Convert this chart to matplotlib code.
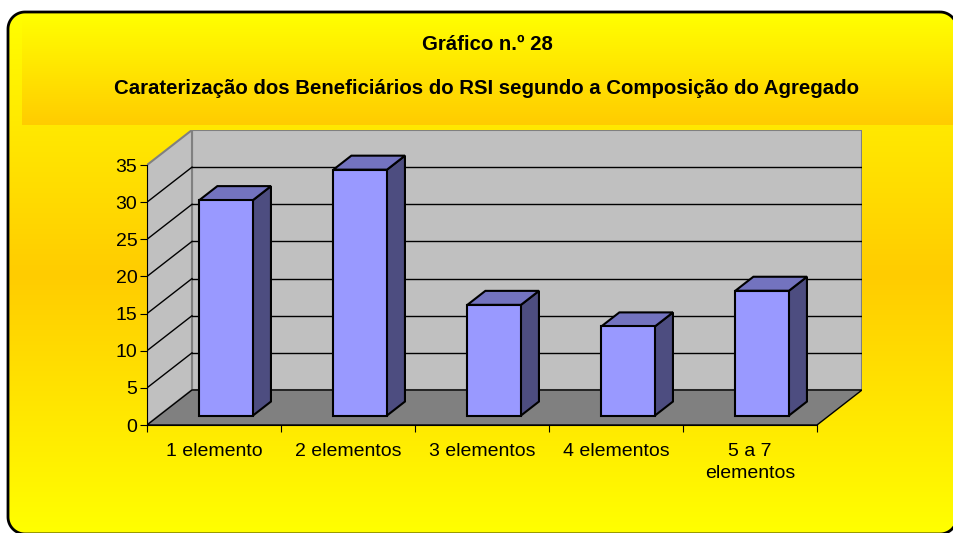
import numpy as np
import matplotlib
matplotlib.use("Agg")
import matplotlib.pyplot as plt
from matplotlib import font_manager
from matplotlib.patches import Polygon, Rectangle

# data
categories = ["1 elemento", "2 elementos", "3 elementos", "4 elementos", "5 a 7\nelementos"]
values = [29.0, 33.1, 14.9, 12.0, 16.8]
y_ticks = [0, 5, 10, 15, 20, 25, 30, 35]
title_1 = "Gráfico n.º 28"
title_2 = "Caraterização dos Beneficiários do RSI segundo a Composição do Agregado"

W, H = 954, 533
YELLOW = np.array([1.0, 1.0, 0.0])
ORANGE = np.array([1.0, 0.8, 0.0])

names = {f.name for f in font_manager.fontManager.ttflist}
title_font = "Liberation Sans Narrow" if "Liberation Sans Narrow" in names else "Liberation Sans"
plt.rcParams["font.family"] = ["Liberation Sans", "DejaVu Sans"]


def rounded_rect(left, top, right, bottom, rad):
    # outline of a rounded rectangle in pixel coords (y down)
    pts = []
    corners = [(right - rad, top + rad, -90, 0), (right - rad, bottom - rad, 0, 90),
               (left + rad, bottom - rad, 90, 180), (left + rad, top + rad, 180, 270)]
    for cx, cy, a0, a1 in corners:
        a = np.deg2rad(np.linspace(a0, a1, 20))
        pts += list(zip(cx + rad * np.cos(a), cy + rad * np.sin(a)))
    return pts


fig = plt.figure(figsize=(W / 100, H / 100), dpi=100)
fig.patch.set_facecolor("white")

# background: rounded frame with yellow/orange gradient
bg = fig.add_axes([0, 0, 1, 1])
bg.set_xlim(0, W)
bg.set_ylim(H, 0)
bg.axis("off")

frame = Polygon(rounded_rect(8, 12, 957, 534, 17), closed=True,
                facecolor="none", edgecolor="black", linewidth=2, zorder=5)
bg.add_patch(frame)

ys = np.linspace(0, H, 400)
mid = 275.0
t = np.where(ys < mid, (ys - 12) / (mid - 12), (H - ys) / (H - mid))
t = np.clip(t, 0, 1)[:, None]
grad = (YELLOW * (1 - t) + ORANGE * t)[:, None, :]
img = bg.imshow(grad, extent=(0, W, H, 0), aspect="auto", zorder=1)
img.set_clip_path(frame)

# title band
ts = np.linspace(0, 1, 200)[:, None]
tgrad = (YELLOW * (1 - ts) + ORANGE * ts)[:, None, :]
timg = bg.imshow(tgrad, extent=(22, W, 125, 14), aspect="auto", zorder=2)
timg.set_clip_path(frame)
bg.set_xlim(0, W)
bg.set_ylim(H, 0)

tsize = 15 if title_font.endswith("Narrow") else 14.7
bg.text(487, 45, title_1, ha="center", va="center", fontsize=tsize, fontweight="bold",
        family=[title_font, "DejaVu Sans"], zorder=6)
bg.text(487, 88, title_2, ha="center", va="center", fontsize=tsize, fontweight="bold",
        family=[title_font, "DejaVu Sans"], zorder=6)

# chart axes, pixel geometry
x0, y0, x1, y1 = 147, 425, 862, 130
ax = fig.add_axes([x0 / W, (H - y0) / H, (x1 - x0) / W, (y0 - y1) / H])
ax.patch.set_alpha(0)
n = len(categories)
px_cat = 134.0
px_val = 260.0 / 35
ddx = 45 / px_cat
ddy = 35 / px_val
ax.set_xlim(0, n + ddx)
ax.set_ylim(0, 35 + ddy)

wall = "#C0C0C0"
edge = "#808080"
ax.add_patch(Rectangle((ddx, ddy), n, 35, facecolor=wall, edgecolor=edge, lw=1.5, zorder=1))
ax.add_patch(Polygon([(0, 0), (ddx, ddy), (ddx, 35 + ddy), (0, 35)], closed=True,
                     facecolor=wall, edgecolor=edge, lw=1.5, zorder=1))
for v in y_ticks[1:-1]:
    ax.plot([ddx, n + ddx], [v + ddy, v + ddy], color="black", lw=1, zorder=2)
    ax.plot([0, ddx], [v, v + ddy], color="black", lw=1, zorder=2)
ax.add_patch(Polygon([(0, 0), (n, 0), (n + ddx, ddy), (ddx, ddy)], closed=True,
                     facecolor="#808080", edgecolor="black", lw=1, zorder=3))

# 3d bars
z0, z1 = 0.27, 0.67
bw = 0.4
front, top, side = "#9999FF", "#7373BF", "#4D4D80"
for i, v in enumerate(values):
    l = i + (1 - bw) / 2 + z0 * ddx
    b = z0 * ddy
    r = l + bw
    dx = (z1 - z0) * ddx
    dy = (z1 - z0) * ddy
    ax.add_patch(Polygon([(r, b), (r + dx, b + dy), (r + dx, b + v + dy), (r, b + v)],
                         closed=True, facecolor=side, edgecolor="black", lw=1.5, zorder=4))
    ax.add_patch(Polygon([(l, b + v), (r, b + v), (r + dx, b + v + dy), (l + dx, b + v + dy)],
                         closed=True, facecolor=top, edgecolor="black", lw=1.5, zorder=4))
    ax.add_patch(Rectangle((l, b), bw, v, facecolor=front, edgecolor="black", lw=1.5, zorder=5))

for s in ["top", "right"]:
    ax.spines[s].set_visible(False)
ax.spines["left"].set_bounds(0, 35)
ax.spines["bottom"].set_bounds(0, n)
ax.spines["left"].set_zorder(6)
ax.spines["bottom"].set_zorder(6)
ax.set_yticks(y_ticks)
ax.tick_params(axis="y", direction="out", length=5, labelsize=14, pad=2)
ax.set_xticks(np.arange(n + 1))
ax.set_xticklabels([])
ax.set_xticks(np.arange(n) + 0.5, minor=True)
ax.set_xticklabels(categories, minor=True, fontsize=14, linespacing=1.4)
ax.tick_params(axis="x", which="major", direction="out", length=5)
ax.tick_params(axis="x", which="minor", length=0, pad=13)

fig.savefig("out.png", dpi=100)
